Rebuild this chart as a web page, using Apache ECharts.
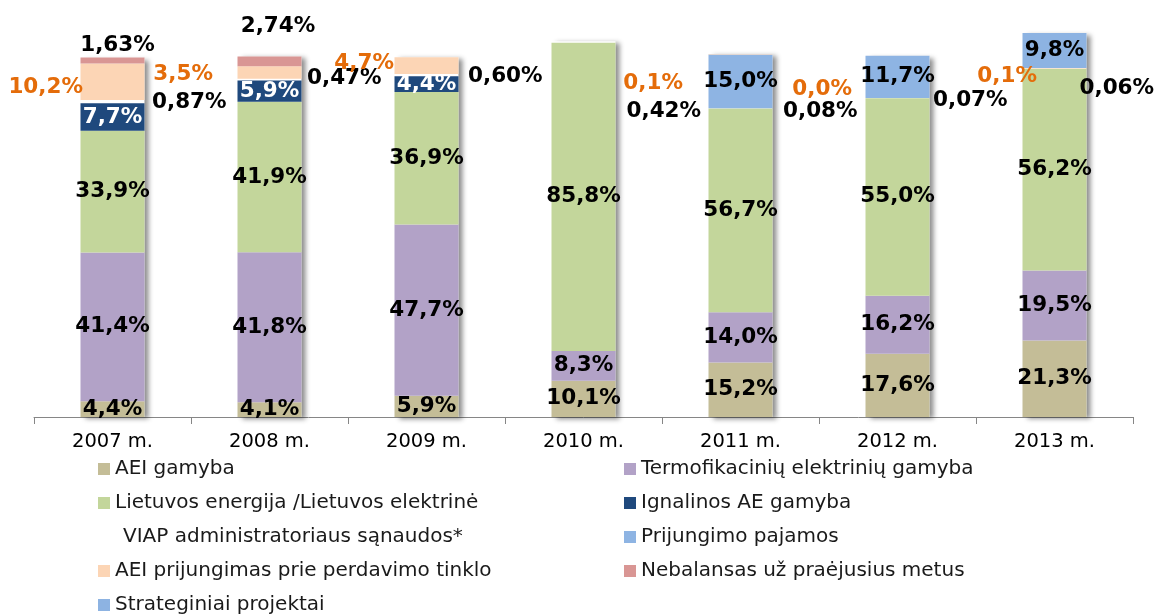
<!DOCTYPE html>
<html>
<head>
<meta charset="utf-8">
<title>VIAP lėšų struktūra 2007–2013 m.</title>
<script src="https://cdn.jsdelivr.net/npm/echarts@6/dist/echarts.min.js"></script>
<style>
  html, body { margin: 0; padding: 0; background: #ffffff; }
  #chart { width: 1159px; height: 614px; }
</style>
</head>
<body>
<div id="chart"></div>
<script>
// Years on the category axis
const years = ['2007 m.', '2008 m.', '2009 m.', '2010 m.', '2011 m.', '2012 m.', '2013 m.'];

// Shares of the PSO (VIAP) funds, % per year
const aeiGamyba        = [4.4, 4.1, 5.9, 10.1, 15.2, 17.6, 21.3];
const termofikacija    = [41.4, 41.8, 47.7, 8.3, 14.0, 16.2, 19.5];
const lietuvosEnergija = [33.9, 41.9, 36.9, 85.8, 56.7, 55.0, 56.2];
const ignalinosAE      = [7.7, 5.9, 4.4, null, null, null, null];
const viapSanaudos     = [0.87, 0.47, 0.60, 0.42, 0.08, 0.07, 0.06];
const prijungimoPaj    = [null, null, null, null, 15.0, 11.7, null];
const aeiPrijungimas   = [10.2, 3.5, 4.7, null, 0.1, 0.0, 0.1];
const nebalansas       = [1.63, 2.74, null, null, null, null, null];
const strateginiai     = [null, null, null, null, null, null, 9.8];

// Legend names
const names = {
  aeiGamyba: 'AEI gamyba',
  termofikacija: 'Termofikacinių elektrinių gamyba',
  lietuvosEnergija: 'Lietuvos energija /Lietuvos elektrinė',
  ignalinosAE: 'Ignalinos AE gamyba',
  viapSanaudos: 'VIAP administratoriaus sąnaudos*',
  prijungimoPaj: 'Prijungimo pajamos',
  aeiPrijungimas: 'AEI prijungimas prie perdavimo tinklo',
  nebalansas: 'Nebalansas už praėjusius metus',
  strateginiai: 'Strateginiai projektai'
};

// Label nudges [dx, dy] for the labels written beside the bars
const viapNudge = [[2.5, 1], [0.5, -1], [4.5, 1], [6, 69], [5.5, 3], [-1.5, 2], [-12, 20]];
const prijungimasNudge = [[7.5, 6], [-19.5, 2], [4.5, -2], [0, 0], [-20.5, 29], [-8.5, 34], [19.5, 8]];
const nebalansasNudge = [[5, 4], [8.5, -14.5], [0, 0], [0, 0], [0, 0], [0, 0], [0, 0]];

const FONT = 'DejaVu Sans, Verdana, sans-serif';
const BAR_W = 64;

function fmt(decimals) {
  return p => p.value == null ? '' : Number(p.value).toFixed(decimals).replace('.', ',') + '%';
}

function labelStyle(color, decimals, position) {
  return {
    show: true,
    position: position,
    distance: 5,
    color: color,
    fontFamily: FONT,
    fontWeight: 'bold',
    fontSize: 21.5,
    formatter: fmt(decimals)
  };
}

function stackSeries(name, values, color, label, nudges) {
  return {
    name: name,
    type: 'bar',
    stack: 'total',
    barWidth: BAR_W,
    barGap: '-100%',
    z: 3,
    itemStyle: { color: color },
    label: label,
    data: values.map((v, i) => {
      const item = { value: v };
      if (nudges && nudges[i]) item.label = { offset: nudges[i] };
      return item;
    })
  };
}

// Backing column per year, only to cast the soft drop shadow
const allSeries = [aeiGamyba, termofikacija, lietuvosEnergija, ignalinosAE, viapSanaudos,
  prijungimoPaj, aeiPrijungimas, nebalansas, strateginiai];
const totals = years.map((_, i) => allSeries.reduce((s, arr) => s + (arr[i] > 0 ? arr[i] : 0), 0));

const series = [
  {
    name: 'shadow',
    type: 'bar',
    stack: 'backing',
    barWidth: BAR_W,
    barGap: '-100%',
    silent: true,
    z: 1,
    itemStyle: {
      color: '#ffffff',
      shadowColor: 'rgba(0,0,0,0.45)',
      shadowBlur: 5,
      shadowOffsetX: 4,
      shadowOffsetY: 2
    },
    data: totals
  },
  stackSeries(names.aeiGamyba, aeiGamyba, '#C4BD97', labelStyle('#000', 1, 'inside')),
  stackSeries(names.termofikacija, termofikacija, '#B2A2C7', labelStyle('#000', 1, 'inside')),
  stackSeries(names.lietuvosEnergija, lietuvosEnergija, '#C3D69B', labelStyle('#000', 1, 'inside')),
  stackSeries(names.ignalinosAE, ignalinosAE, '#1F497D', labelStyle('#ffffff', 1, 'inside')),
  stackSeries(names.viapSanaudos, viapSanaudos, 'rgba(255,255,255,0)', labelStyle('#000', 2, 'right'), viapNudge),
  stackSeries(names.prijungimoPaj, prijungimoPaj, '#8EB4E3', labelStyle('#000', 1, 'inside')),
  stackSeries(names.aeiPrijungimas, aeiPrijungimas, '#FCD5B5', labelStyle('#E46C0A', 1, 'left'), prijungimasNudge),
  stackSeries(names.nebalansas, nebalansas, '#D99694', labelStyle('#000', 2, 'top'), nebalansasNudge),
  stackSeries(names.strateginiai, strateginiai, '#8DB3E2', labelStyle('#000', 1, 'inside'))
];

const legendText = { fontFamily: FONT, fontSize: 20, color: '#1a1a1a', lineHeight: 20 };

const legendBase = {
  orient: 'vertical',
  top: 459,
  height: 160,
  padding: 0,
  itemWidth: 12,
  itemHeight: 12,
  itemGap: 14,
  icon: 'rect',
  textStyle: legendText,
  selectedMode: false
};

const option = {
  animation: false,
  backgroundColor: '#ffffff',
  grid: { left: 34, right: 26, top: 22, bottom: 197, containLabel: false },
  xAxis: {
    type: 'category',
    data: years,
    axisLine: { lineStyle: { color: '#868686', width: 1 } },
    axisTick: { show: true, length: 7, lineStyle: { color: '#868686' } },
    axisLabel: { color: '#000', fontFamily: FONT, fontSize: 19.5, margin: 15 }
  },
  yAxis: {
    type: 'value',
    min: 0,
    max: 110,
    show: false,
    splitLine: { show: false }
  },
  legend: [
    Object.assign({}, legendBase, {
      left: 98,
      data: [
        names.aeiGamyba,
        names.lietuvosEnergija,
        { name: names.viapSanaudos, textStyle: { padding: [0, 0, 0, 8] } },
        names.aeiPrijungimas,
        names.strateginiai
      ]
    }),
    Object.assign({}, legendBase, {
      left: 624,
      data: [names.termofikacija, names.ignalinosAE, names.prijungimoPaj, names.nebalansas]
    })
  ],
  series: series
};

const chart = echarts.init(document.getElementById('chart'), null, { renderer: 'canvas' });
chart.setOption(option);
</script>
</body>
</html>
